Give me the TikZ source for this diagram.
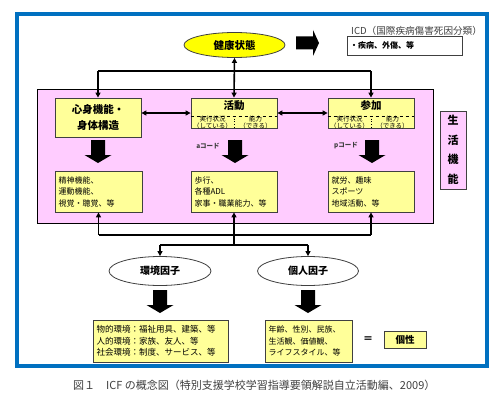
\documentclass[tikz,border=0pt]{standalone}
\usepackage{fontspec}
\setmainfont{Noto Sans CJK JP}
\usetikzlibrary{arrows.meta,shapes.geometric}
\definecolor{pinkbg}{HTML}{FFCCFF}
\definecolor{ybox}{HTML}{FFFF99}
\definecolor{yell}{HTML}{FFFF00}
\definecolor{bluef}{HTML}{0070C0}
\definecolor{edge}{HTML}{404040}
\tikzset{
  conn/.style={line width=1.6pt, black},
  tip/.style={-{Triangle[length=5pt,width=5pt]}},
  tips/.style={{Triangle[length=5pt,width=5pt]}-{Triangle[length=5pt,width=5pt]}},
  ybx/.style={draw=edge, line width=0.8pt, fill=ybox, rectangle, inner sep=0pt},
  txtbox/.style={ybx, align=left, font=\fontsize{8}{11.5}\selectfont},
  oval/.style={ellipse, draw=edge, line width=0.8pt, inner sep=0pt},
  title/.style={font=\fontsize{10.5}{13}\bfseries\selectfont},
  darrow/.pic={\fill[black] (-7,0) -- (7,0) -- (7,15) -- (13.5,15) -- (0,23) -- (-13.5,15) -- (-7,15) -- cycle;},
  rarrow/.pic={\fill[black] (0,-6.5) -- (17,-6.5) -- (17,-13) -- (23,0) -- (17,13) -- (17,6.5) -- (0,6.5) -- cycle;}
}
\begin{document}
\begin{tikzpicture}[x=1pt,y=-1pt]
\useasboundingbox (0,0) rectangle (500,404);
\fill[white] (0,0) rectangle (500,404);
% frame
\draw[bluef, line width=3.5pt] (17,14) rectangle (487,366);
\draw[fill=pinkbg, draw=black, line width=0.8pt] (37,89) rectangle (433,223);

% health
\node[oval, fill=yell, minimum width=101pt, minimum height=25pt, title] (H) at (234.5,45) {健康状態};
\pic at (296,43) {rarrow};
\node[anchor=west, text=edge, font=\fontsize{9.6}{10}\selectfont, inner sep=0pt] (icdl) at (351,31) {ICD（国際疾病傷害死因分類）};
\node[draw=edge, line width=0.6pt, fill=white, minimum width=115pt, minimum height=19pt, inner sep=0pt] (icdb) at (404.5,45.5) {};
\node[anchor=west, font=\fontsize{8}{10}\bfseries\selectfont, inner sep=0pt] (icdt) at (350,45.5) {・疾病、外傷、等};

% upper boxes
\node[ybx, minimum width=86pt, minimum height=39pt, align=center, font=\fontsize{10.5}{16}\bfseries\selectfont] (body) at (98,117.5) {心身機能・\\身体構造};
\node[ybx, minimum width=86pt, minimum height=30pt] (act) at (234,113) {};
\node[ybx, minimum width=86pt, minimum height=30pt] (part) at (371,113) {};
\node[title, inner sep=0pt] (actt) at (234,106) {活動};
\node[title, inner sep=0pt] (partt) at (371,106) {参加};
\draw[dashed, line width=0.6pt] (act.west |- 0,116) -- (act.east |- 0,116);
\draw[dotted, line width=0.7pt] (act.center |- 0,116) -- (act.south);
\draw[dashed, line width=0.6pt] (part.west |- 0,116) -- (part.east |- 0,116);
\draw[dotted, line width=0.7pt] (part.center |- 0,116) -- (part.south);
\tikzset{sub/.style={font=\fontsize{6.5}{6.8}\selectfont, align=center, inner sep=0pt, text=black}}
\node[sub] (a1) at (212.5,122.5) {実行状況\\（している）};
\node[sub] (a2) at (255.5,122.5) {能力\\（できる）};
\node[sub] (p1) at (349.5,122.5) {実行状況\\（している）};
\node[sub] (p2) at (392.5,122.5) {能力\\（できる）};

% top connectors
\draw[conn, tips] (H.south) -- (act.north);
\coordinate (t1) at (body.north |- 0,71);
\coordinate (t3) at (part.north |- 0,71);
\draw[conn] (t1) -- (t3);
\draw[conn, tip] (t1) -- (body.north);
\draw[conn, tip] (t3) -- (part.north);
\draw[conn, tips] (body.east |- act.center) -- (act.west);
\draw[conn, tips] (act.east) -- (part.west);

% codes and arrows
\node[font=\fontsize{6.5}{7}\bfseries\selectfont, text=edge, inner sep=0pt] (ac) at (208,146) {aコード};
\node[font=\fontsize{6.5}{7}\bfseries\selectfont, text=edge, inner sep=0pt] (pc) at (346,146) {pコード};
\pic at (98,140) {darrow};
\pic at (235,140) {darrow};
\pic at (372,140) {darrow};

% lower boxes
\node[txtbox, minimum width=87pt, minimum height=41pt, text width=80pt] (low1) at (98.5,191.5) {精神機能、\\運動機能、\\視覚・聴覚、等};
\node[txtbox, minimum width=86pt, minimum height=41pt, text width=79pt] (low2) at (234,191.5) {歩行、\\各種ADL\\家事・職業能力、等};
\node[txtbox, minimum width=86pt, minimum height=41pt, text width=79pt] (low3) at (371,191.5) {就労、趣味\\スポーツ\\地域活動、等};

% 生活機能
\node[draw=edge, line width=0.8pt, fill=pinkbg, minimum width=26pt, minimum height=78pt, align=center, inner sep=0pt, font=\fontsize{11}{19.5}\bfseries\selectfont] (life) at (453,150) {生\\活\\機\\能};

% bottom connectors
\coordinate (b1) at (low1.south |- 0,235);
\coordinate (b2) at (low2.south |- 0,235);
\coordinate (b3) at (low3.south |- 0,235);
\coordinate (m) at (low2.south |- 0,245);
\node[oval, fill=white, minimum width=102pt, minimum height=29pt, font=\fontsize{10}{12}\bfseries\selectfont] (env) at (160,271) {環境因子};
\node[oval, fill=white, minimum width=101pt, minimum height=29pt, font=\fontsize{10}{12}\bfseries\selectfont] (pers) at (308,271) {個人因子};
\coordinate (e1) at (env.north |- 0,245);
\coordinate (e2) at (pers.north |- 0,245);
\draw[conn] (b1) -- (b3);
\draw[conn, tip] (b1) -- (low1.south);
\draw[conn, tip] (b2) -- (low2.south);
\draw[conn, tip] (b3) -- (low3.south);
\draw[conn] (b2) -- (m);
\draw[conn] (e1) -- (e2);
\draw[conn, tip] (e1) -- (env.north);
\draw[conn, tip] (e2) -- (pers.north);

\pic at (160,290) {darrow};
\pic at (308,290) {darrow};

% bottom boxes
\node[txtbox, font=\fontsize{8.5}{11.5}\selectfont, minimum width=135pt, minimum height=42pt, text width=128pt] (envb) at (160.5,341) {物的環境：福祉用具、建築、等\\人的環境：家族、友人、等\\社会環境：制度、サービス、等};
\node[txtbox, minimum width=87pt, minimum height=42pt, text width=80pt] (persb) at (308.5,341) {年齢、性別、民族、\\生活観、価値観、\\ライフスタイル、等};
\node[font=\fontsize{10}{12}\bfseries\selectfont, inner sep=0pt] (eq) at (368,340) {＝};
\node[ybx, minimum width=42pt, minimum height=17pt, font=\fontsize{9.5}{11}\bfseries\selectfont] (kosei) at (405,339.5) {個性};

% caption
\node[anchor=west, inner sep=0pt, text=edge, font=\fontsize{11}{12}\selectfont] (cap) at (73,385) {図１　ICF の概念図（特別支援学校学習指導要領解説自立活動編、2009）};
\end{tikzpicture}
\end{document}
